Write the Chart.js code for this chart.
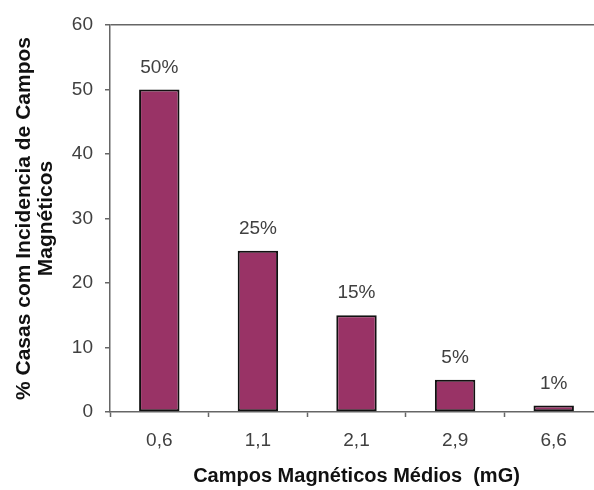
<!DOCTYPE html>
<html>
<head>
<meta charset="utf-8">
<script src="https://cdn.jsdelivr.net/npm/chart.js@4/dist/chart.umd.min.js"></script>
<style>
  html, body { margin: 0; padding: 0; background: #fff; overflow: hidden; }
  canvas { display: block; }
</style>
</head>
<body>
<canvas id="c" width="604" height="490" style="width:604px;height:490px"></canvas>
<script>
// Average magnetic field categories (mG) and share of houses (%)
const categories = ['0,6', '1,1', '2,1', '2,9', '6,6'];
const housesPct = [50, 25, 15, 5, 1];
const yTicks = [0, 10, 20, 30, 40, 50, 60];

const xTitle = 'Campos Magnéticos Médios  (mG)';
const yTitle = ['% Casas com Incidencia de Campos', 'Magnéticos'];

const FONT = '"Liberation Sans", Arial, sans-serif';
const TEXT = '#404040';
const AXIS = '#666666';

// Percentage label above each bar
const valueLabels = {
  id: 'valueLabels',
  afterDatasetsDraw(chart) {
    const ctx = chart.ctx;
    const meta = chart.getDatasetMeta(0);
    ctx.save();
    ctx.font = '19px ' + FONT;
    ctx.fillStyle = TEXT;
    ctx.textAlign = 'center';
    ctx.textBaseline = 'alphabetic';
    meta.data.forEach((bar, i) => {
      ctx.fillText(housesPct[i] + '%', bar.x, bar.y - 17);
    });
    ctx.restore();
  }
};

new Chart(document.getElementById('c'), {
  type: 'bar',
  data: {
    labels: categories,
    datasets: [{
      data: housesPct,
      backgroundColor: '#993366',
      borderColor: '#111111',
      borderWidth: 2,
      borderSkipped: false,
      barPercentage: 0.41,
      categoryPercentage: 1.0
    }]
  },
  options: {
    responsive: false,
    animation: false,
    layout: { padding: { top: 25, right: 1, left: 0, bottom: 0 } },
    plugins: {
      legend: { display: false },
      tooltip: { enabled: false }
    },
    scales: {
      x: {
        offset: true,
        afterFit(scale) { scale.height = 78; },
        border: { display: true, color: AXIS, width: 1.5 },
        grid: {
          offset: true,
          drawOnChartArea: false,
          drawTicks: true,
          tickLength: 5,
          tickColor: AXIS,
          tickWidth: 1.5
        },
        ticks: {
          padding: 12,
          color: TEXT,
          font: { family: FONT, size: 19 }
        },
        title: {
          display: true,
          text: xTitle,
          color: '#111111',
          font: { family: FONT, size: 20, weight: 'bold', lineHeight: 1.1 },
          padding: { top: 0, bottom: 3 }
        }
      },
      y: {
        min: 0,
        max: 60,
        afterFit(scale) { scale.width = 110; },
        afterBuildTicks(scale) { scale.ticks = yTicks.map(v => ({ value: v })); },
        border: { display: true, color: AXIS, width: 1.5 },
        grid: {
          drawOnChartArea: true,
          drawTicks: true,
          tickLength: 5,
          tickColor: AXIS,
          tickWidth: 1.5,
          lineWidth: 1.5,
          color: (c) => (c.tick && c.tick.value === 60 ? AXIS : 'rgba(0,0,0,0)')
        },
        ticks: {
          padding: 12,
          color: TEXT,
          font: { family: FONT, size: 19 }
        },
        title: {
          display: true,
          text: yTitle,
          color: '#111111',
          font: { family: FONT, size: 21, weight: 'bold', lineHeight: 1.05 },
          padding: { top: 13, bottom: 0 }
        }
      }
    }
  },
  plugins: [valueLabels]
});
</script>
</body>
</html>
